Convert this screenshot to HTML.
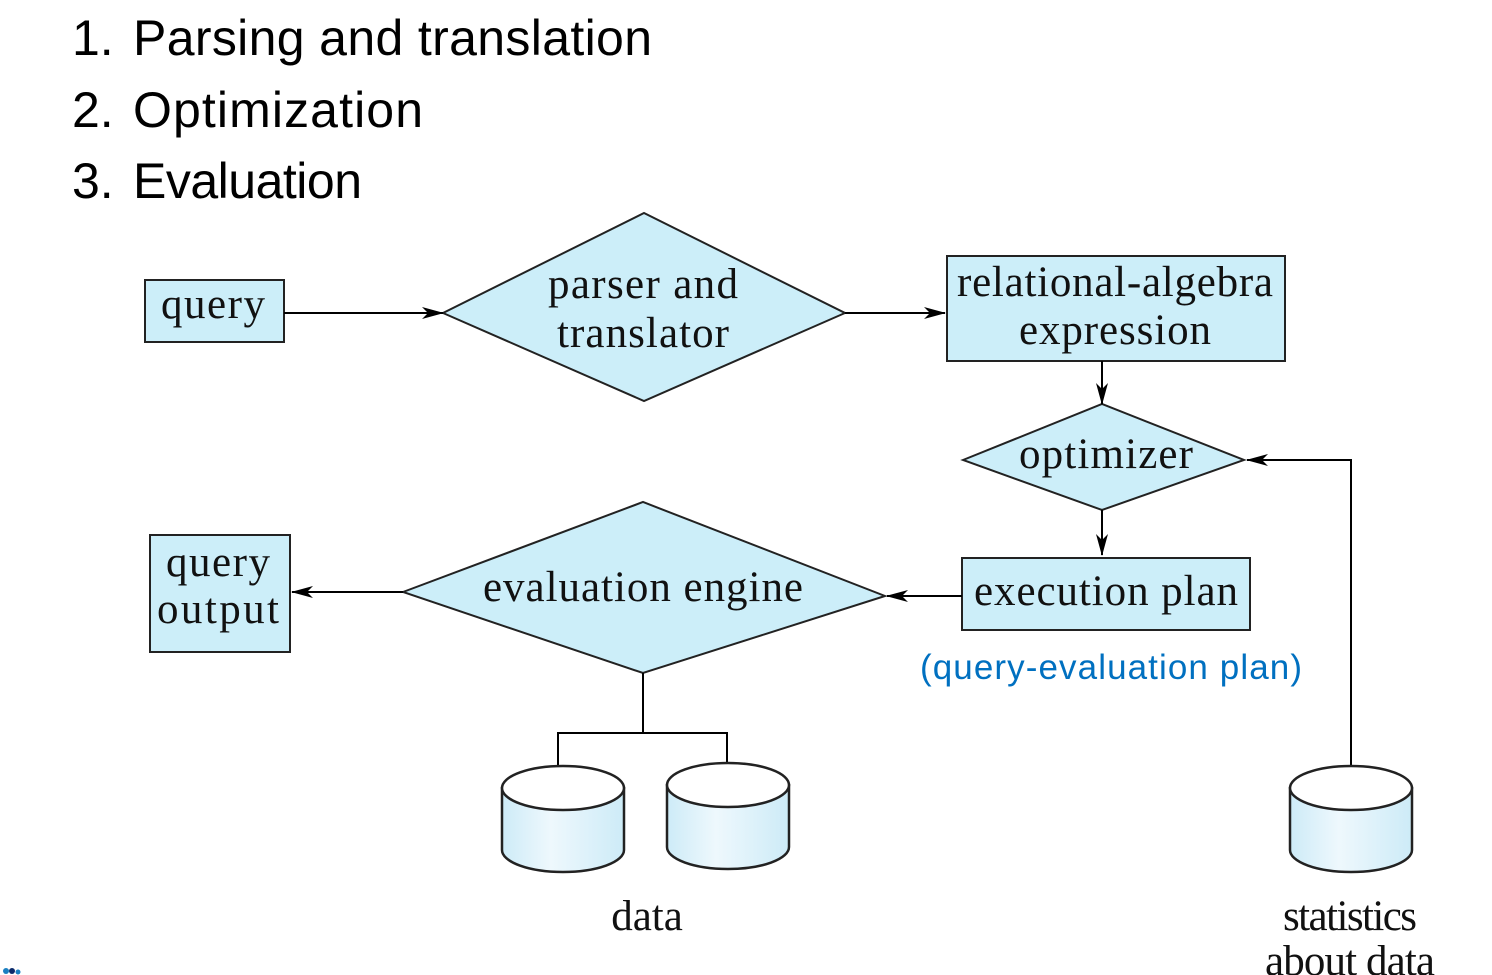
<!DOCTYPE html>
<html><head><meta charset="utf-8"><style>
html,body{margin:0;padding:0;background:#fff;}
svg{display:block;}
.t{font-family:"Liberation Sans",sans-serif;font-size:50px;fill:#000;}
.s{font-family:"Liberation Serif",serif;font-size:43px;fill:#111;text-anchor:middle;}
</style></head><body>
<svg width="1492" height="975" viewBox="0 0 1492 975" xmlns="http://www.w3.org/2000/svg">
<defs>
<marker id="a" markerWidth="22" markerHeight="12" refX="21" refY="6" orient="auto" markerUnits="userSpaceOnUse">
<path d="M0,0 L22,6 L0,12 L6,6 Z" fill="#000"/>
</marker>
<linearGradient id="g" x1="0" x2="1" y1="0" y2="0">
<stop offset="0" stop-color="#cdebf7"/><stop offset="0.4" stop-color="#eef8fd"/><stop offset="1" stop-color="#cdebf7"/>
</linearGradient>
</defs>
<text class="t" x="72" y="55">1.</text><text class="t" x="133" y="55" textLength="519">Parsing and translation</text>
<text class="t" x="72" y="127">2.</text><text class="t" x="133" y="127" textLength="290">Optimization</text>
<text class="t" x="72" y="198">3.</text><text class="t" x="133" y="198" textLength="229">Evaluation</text>

<g stroke="#222" stroke-width="2" fill="#cceef9">
<rect x="145" y="280" width="139" height="62"/>
<polygon points="443,313 644,213 845,313 644,401"/>
<rect x="947" y="256" width="338" height="105"/>
<polygon points="963,460 1102,404 1244,460 1102,510"/>
<rect x="962" y="558" width="288" height="72"/>
<polygon points="403,592 643,502 885,596 643,673"/>
<rect x="150" y="535" width="140" height="117"/>
</g>
<g stroke="#000" stroke-width="2" fill="none">
<line x1="284" y1="313" x2="443" y2="313" marker-end="url(#a)"/>
<line x1="845" y1="313" x2="945" y2="313" marker-end="url(#a)"/>
<line x1="1102" y1="361" x2="1102" y2="404" marker-end="url(#a)"/>
<line x1="1102" y1="510" x2="1102" y2="555" marker-end="url(#a)"/>
<line x1="962" y1="596" x2="887" y2="596" marker-end="url(#a)"/>
<line x1="403" y1="592" x2="292" y2="592" marker-end="url(#a)"/>
<polyline points="1351,766 1351,460 1247,460" marker-end="url(#a)"/>
<polyline points="643,673 643,733"/>
<polyline points="558,766 558,733 727,733 727,763"/>
</g>
<g stroke="#222" stroke-width="2.5">
<path d="M502,788 L502,850 A61,22 0 0 0 624,850 L624,788 Z" fill="url(#g)"/>
<ellipse cx="563" cy="788" rx="61" ry="22" fill="#fff"/>
<path d="M667,785 L667,847 A61,22 0 0 0 789,847 L789,785 Z" fill="url(#g)"/>
<ellipse cx="728" cy="785" rx="61" ry="22" fill="#fff"/>
<path d="M1290,788 L1290,850 A61,22 0 0 0 1412,850 L1412,788 Z" fill="url(#g)"/>
<ellipse cx="1351" cy="788" rx="61" ry="22" fill="#fff"/>
</g>
<text class="s" x="213" y="318" textLength="104">query</text>
<text class="s" x="643" y="298" textLength="190">parser and</text>
<text class="s" x="643" y="347" textLength="172">translator</text>
<text class="s" x="1115" y="296" textLength="316">relational-algebra</text>
<text class="s" x="1115" y="344" textLength="192">expression</text>
<text class="s" x="1106" y="468" textLength="174">optimizer</text>
<text class="s" x="1106" y="605" textLength="264">execution plan</text>
<text class="s" x="643" y="601" textLength="320">evaluation engine</text>
<text class="s" x="218" y="576" textLength="104">query</text>
<text class="s" x="218" y="623" textLength="122">output</text>
<text x="920" y="679" font-family="Liberation Sans,sans-serif" font-size="35" fill="#0070c0" textLength="382">(query-evaluation plan)</text>
<text class="s" x="647" y="930">data</text>
<text class="s" x="1350" y="930" textLength="134">statistics</text>
<text class="s" x="1350" y="975" textLength="170">about data</text>
<circle cx="6" cy="971" r="3" fill="#1a7fc1"/><circle cx="12" cy="971" r="3" fill="#0b2a6b"/><circle cx="18" cy="972" r="2.5" fill="#1a7fc1"/>
</svg>
</body></html>
